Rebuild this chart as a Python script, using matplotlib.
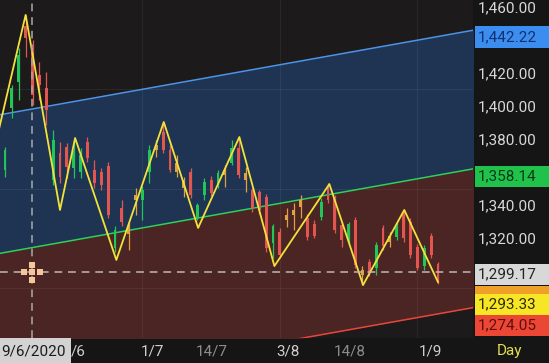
import matplotlib
matplotlib.use("Agg")
import matplotlib.pyplot as plt
from matplotlib.patches import Rectangle
import numpy as np

plt.rcParams['font.family'] = ['Roboto', 'DejaVu Sans']

# daily candles, index 0 = first visible bar
opens = [1361.2, 1398.8, 1414.5, 1448.5, 1435.2, 1418.8, 1410.9, 1355.2, 1371.5, 1375.1,
         1362.4, 1360.0, 1378.2, 1361.2, 1360.0, 1363.6, 1313.9, 1338.2, 1322.4, 1346.1,
         1343.0, 1360.0, 1373.3, 1384.2, 1373.3, 1365.5, 1355.2, 1360.0, 1332.1, 1346.1,
         1355.2, 1352.1, 1358.2, 1365.5, 1374.5, 1355.2, 1349.1, 1347.9, 1344.8, 1317.0,
         1323.6, 1333.9, 1337.0, 1343.0, 1332.1, 1328.5, 1332.7, 1350.3, 1344.2, 1327.9,
         1318.8, 1330.9, 1300.6, 1305.5, 1301.8, 1326.1, 1321.2, 1320.6, 1335.2, 1329.7,
         1314.5, 1303.0, 1321.2, 1304.2]
highs = [1375.1, 1412.7, 1435.2, 1455.2, 1440.0, 1426.7, 1420.6, 1385.5, 1378.2, 1377.6,
         1379.4, 1374.5, 1381.2, 1367.3, 1362.4, 1366.1, 1327.3, 1343.0, 1329.7, 1350.3,
         1351.5, 1376.4, 1379.4, 1389.7, 1376.4, 1370.3, 1357.0, 1362.4, 1341.2, 1356.4,
         1357.6, 1361.2, 1364.2, 1379.4, 1381.2, 1363.0, 1350.3, 1349.1, 1346.7, 1328.5,
         1326.1, 1338.2, 1341.2, 1346.1, 1334.5, 1330.9, 1344.2, 1353.3, 1346.1, 1329.7,
         1329.7, 1332.7, 1303.0, 1307.3, 1317.6, 1327.9, 1323.6, 1329.7, 1337.0, 1332.1,
         1316.4, 1315.8, 1323.0, 1305.5]
lows = [1357.0, 1392.7, 1403.6, 1429.7, 1400.6, 1403.6, 1388.5, 1352.1, 1353.3, 1356.4,
        1356.4, 1356.4, 1366.1, 1350.3, 1349.1, 1332.1, 1311.5, 1327.3, 1312.7, 1333.9,
        1330.9, 1353.3, 1369.1, 1371.5, 1360.0, 1357.0, 1344.8, 1344.2, 1330.9, 1343.0,
        1345.5, 1350.3, 1350.9, 1364.2, 1356.4, 1347.9, 1335.8, 1334.5, 1311.5, 1307.9,
        1307.9, 1326.7, 1324.8, 1332.1, 1318.8, 1320.0, 1330.9, 1341.2, 1323.0, 1314.5,
        1316.4, 1301.8, 1291.5, 1297.0, 1297.6, 1312.7, 1314.5, 1318.8, 1317.6, 1307.9,
        1300.6, 1300.6, 1307.9, 1292.1]
closes = [1373.3, 1410.9, 1430.9, 1441.2, 1406.7, 1412.7, 1397.6, 1379.4, 1357.0, 1363.0,
          1373.3, 1370.3, 1368.5, 1353.3, 1352.1, 1333.9, 1324.8, 1329.7, 1327.3, 1343.0,
          1349.1, 1373.3, 1376.4, 1373.3, 1361.2, 1360.0, 1350.3, 1346.1, 1340.0, 1354.0,
          1347.3, 1359.4, 1361.2, 1374.5, 1358.2, 1359.4, 1338.2, 1337.0, 1313.9, 1327.3,
          1309.7, 1330.9, 1333.9, 1338.8, 1320.6, 1321.2, 1341.8, 1343.0, 1324.8, 1318.8,
          1328.5, 1303.6, 1297.6, 1298.8, 1315.8, 1315.2, 1317.6, 1327.3, 1320.0, 1309.7,
          1301.8, 1313.9, 1309.7, 1293.33]

# zigzag pivots (bar index, price)
zz_idx = [-1, 3, 8, 10.2, 16.2, 23.1, 28.1, 34.1, 39.2, 47.2, 52.1, 58.1, 63]
zz_val = [1383.8, 1455.2, 1337.0, 1380.6, 1306.7, 1390.3, 1326.1, 1381.2, 1303.0,
          1352.7, 1291.5, 1337.0, 1293.3]

# regression channel end points
chan_idx = [-1, 68.5]
chan_upper = [1394.5, 1446.2]
chan_mid = [1310.5, 1362.2]
chan_lower = [1226.4, 1278.1]

# first label is mostly hidden behind the cursor date box, only "/6" shows
date_pos = [10.6, 21.4, 30.1, 41.2, 50.2, 61.9]
date_labels = ["/6", "1/7", "14/7", "3/8", "14/8", "1/9"]
date_bright = [True, True, False, True, False, True]

# ticks hidden behind the tags (1440, 1360, 1300, 1280) are left out
price_ticks = [1320, 1340, 1380, 1400, 1420, 1460]

cursor_idx = 3.93
cursor_val = 1299.17
cursor_date = "9/6/2020"

# right-hand price tags: text, face, text colour, centre (px from top)
tags = [
    ("1,442.22", "#3b8ef0", "#12306e", 37),
    ("1,358.14", "#20c24c", "#0b3a17", 176),
    ("", "#f0a028", "#5a3000", 296),
    ("1,299.17", "#d8d8d8", "#222222", 274),
    ("1,293.33", "#f7e626", "#2e2a00", 304),
    ("1,274.05", "#ec4634", "#5e0e0e", 325),
]

W, H = 549, 363
fig = plt.figure(figsize=(W / 100, H / 100), dpi=100, facecolor="#151515")
ax = fig.add_axes([0, 25 / H, 473 / W, 338 / H])
ax.set_facecolor("#1c1a1a")
ax.set_xlim(-0.73, 68.1)
ax.set_ylim(1259.4, 1464.24)

# channel fills and lines
ax.fill_between(chan_idx, chan_mid, chan_upper, color="#1f3452", lw=0, zorder=0.5)
ax.fill_between(chan_idx, chan_lower, chan_mid, color="#4a2523", lw=0, zorder=0.5)
ax.plot(chan_idx, chan_upper, color="#4d94e8", lw=1.1, zorder=2)
ax.plot(chan_idx, chan_mid, color="#2fd05a", lw=1.1, zorder=2)
ax.plot(chan_idx, chan_lower, color="#e8463a", lw=1.1, zorder=2)

# faint grid
for gx in [20, 40, 60]:
    ax.axvline(gx, color="white", alpha=0.06, lw=0.8, zorder=1)
for gy in [1410, 1350, 1290]:
    ax.axhline(gy, color="white", alpha=0.06, lw=0.8, zorder=1)

# candles
o = np.array(opens)
c = np.array(closes)
x = np.arange(len(o))
cols = np.where(c > o, "#22c55a", "#e2564f")
cols = np.where(np.abs(c - o) < 6, "#e0a044", cols)
ax.vlines(x, lows, highs, colors=cols, lw=0.9, zorder=3)
ax.bar(x, np.abs(c - o), bottom=np.minimum(o, c), width=0.42, color=cols, lw=0, zorder=3)

# zigzag
ax.plot(zz_idx, zz_val, color="#f2e23c", lw=1.3, zorder=4)

# cursor
ax.axhline(cursor_val, color="#bdb5b5", lw=1.4, dashes=(4, 3), alpha=0.8, zorder=5)
ax.axvline(cursor_idx, color="#a8a8a8", lw=1.4, dashes=(4, 3), alpha=0.8, zorder=5)
dx, dy = 1.1, 4.6
ax.plot([cursor_idx - dx, cursor_idx, cursor_idx + dx, cursor_idx, cursor_idx],
        [cursor_val, cursor_val, cursor_val, cursor_val + dy, cursor_val - dy],
        ls="none", marker="s", ms=3.8, color="#f7c59c", mew=0, zorder=6)

for s in ax.spines.values():
    s.set_visible(False)

ax.yaxis.tick_right()
ax.set_yticks(price_ticks)
ax.set_yticklabels([f"{v:,.2f}" for v in price_ticks])
ax.tick_params(axis="y", length=0, pad=3.5, labelsize=11, labelcolor="#d8d8d8")
ax.set_xticks(date_pos)
ax.set_xticklabels(date_labels)
ax.tick_params(axis="x", length=0, pad=5, labelsize=11)
for lab, bright in zip(ax.get_xticklabels(), date_bright):
    lab.set_color("#cfcfcf" if bright else "#8c8c8c")

fig.text(510 / W, 1 - 351 / H, "Day", color="#e2df4c", fontsize=11,
         ha="center", va="center")

# cursor date box
fig.add_artist(Rectangle((0, 0), 71 / W, 25 / H, transform=fig.transFigure,
                         facecolor="#d3d3d3", lw=0, zorder=10))
fig.text(33 / W, 1 - 351 / H, cursor_date, color="#1c1c1c", fontsize=11,
         ha="center", va="center", zorder=11)

# price tags
for txt, face, tcol, yc in tags:
    fig.add_artist(Rectangle((475 / W, 1 - (yc + 10.5) / H), 74 / W, 21 / H,
                             transform=fig.transFigure, facecolor=face, lw=0, zorder=10))
    if txt:
        fig.text(478 / W, 1 - (yc + 0.5) / H, txt, color=tcol, fontsize=11,
                 ha="left", va="center", zorder=11)

fig.savefig("out.png", dpi=100, facecolor=fig.get_facecolor())
